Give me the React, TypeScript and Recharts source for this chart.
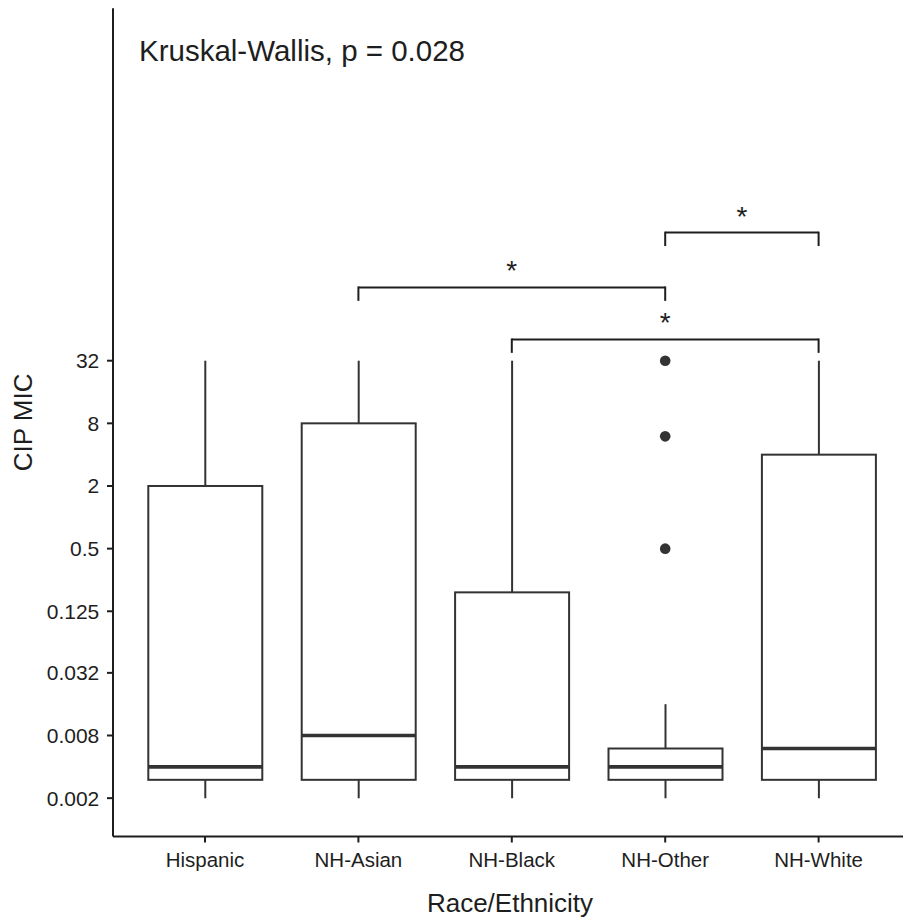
import React from 'react';
import { ComposedChart, Bar, Scatter, XAxis, YAxis, ReferenceLine } from 'recharts';

// MIC values (mg/L), one entry per group
const categories = ['Hispanic', 'NH-Asian', 'NH-Black', 'NH-Other', 'NH-White'];
const micMin = [0.002, 0.002, 0.002, 0.002, 0.002];
const micQ1 = [0.003, 0.003, 0.003, 0.003, 0.003];
const micMedian = [0.004, 0.008, 0.004, 0.004, 0.006];
const micQ3 = [2, 8, 0.19, 0.006, 4];
const micMax = [32, 32, 32, 0.016, 32];

const outlierGroups = ['NH-Other', 'NH-Other', 'NH-Other'];
const outlierValues = [32, 6, 0.5];

const yTickLabels = [0.002, 0.008, 0.032, 0.125, 0.5, 2, 8, 32];

// pairwise comparisons (bracket heights on the log2 scale)
const compareFrom = ['NH-Asian', 'NH-Black', 'NH-Other'];
const compareTo = ['NH-Other', 'NH-White', 'NH-White'];
const compareLevel = [7.34, 5.68, 9.09];
const compareSig = ['*', '*', '*'];
const tipLength = 0.43;

const kwText = 'Kruskal-Wallis, p = 0.028';

const lg = (v: number) => Math.log2(v);

const boxData = categories.map((name, i) => ({
  name,
  lMin: lg(micMin[i]),
  lQ1: lg(micQ1[i]),
  lMed: lg(micMedian[i]),
  lQ3: lg(micQ3[i]),
  lMax: lg(micMax[i]),
  range: [lg(micMin[i]), lg(micMax[i])],
}));

const outlierData = outlierGroups.map((name, i) => ({ name, value: lg(outlierValues[i]) }));

const FONT = '"Liberation Sans", Arial, Helvetica, sans-serif';
const LINE = '#333333';
const TEXT = '#1e1e1e';

// whole box drawn from the bar spanning min..max; inner positions follow the same linear scale
const BoxShape = (props: any) => {
  const { x, y, width, height, payload } = props;
  const hi = payload.lMax;
  const lo = payload.lMin;
  const k = height / (hi - lo);
  const py = (v: number) => y + (hi - v) * k;
  const cx = x + width / 2;
  return (
    <g>
      <line x1={cx} x2={cx} y1={py(hi)} y2={py(payload.lQ3)} stroke={LINE} strokeWidth={2} />
      <line x1={cx} x2={cx} y1={py(payload.lQ1)} y2={py(lo)} stroke={LINE} strokeWidth={2} />
      <rect
        x={x}
        y={py(payload.lQ3)}
        width={width}
        height={py(payload.lQ1) - py(payload.lQ3)}
        fill="#fff"
        stroke={LINE}
        strokeWidth={2}
      />
      <line x1={x} x2={x + width} y1={py(payload.lMed)} y2={py(payload.lMed)} stroke={LINE} strokeWidth={3.6} />
    </g>
  );
};

const Dot = (props: any) => <circle cx={props.cx} cy={props.cy} r={5.3} fill={LINE} />;

const tickFmt = (v: number) => {
  const t = yTickLabels.find((l) => Math.abs(lg(l) - v) < 1e-6);
  return t === undefined ? '' : String(t);
};

export default function App() {
  return (
    <div style={{ position: 'absolute', left: 0, top: 0, width: 903, height: 921, overflow: 'hidden', background: '#fff' }}>
      <ComposedChart
        width={911}
        height={921}
        data={boxData}
        margin={{ top: 8.3, right: 0, bottom: 0, left: 0 }}
        style={{ fontFamily: FONT }}
      >
        <XAxis
          dataKey="name"
          type="category"
          allowDuplicatedCategory={false}
          interval={0}
          height={84.5}
          padding={{ left: 15.3, right: 15.7 }}
          axisLine={{ stroke: TEXT, strokeWidth: 2 }}
          tickLine={{ stroke: TEXT, strokeWidth: 2 }}
          tickSize={6}
          tickMargin={10}
          tick={{ fill: TEXT, fontSize: 20.5, fontFamily: FONT }}
          label={{ value: 'Race/Ethnicity', position: 'insideBottom', offset: 9.3, dx: -2, fill: TEXT, fontSize: 26, fontFamily: FONT }}
        />
        <YAxis
          type="number"
          domain={[-10.19, 16.25]}
          allowDataOverflow
          ticks={yTickLabels.map(lg)}
          interval={0}
          tickFormatter={tickFmt}
          width={113}
          axisLine={{ stroke: TEXT, strokeWidth: 2 }}
          tickLine={{ stroke: TEXT, strokeWidth: 2 }}
          tickSize={6}
          tickMargin={7.7}
          tick={{ fill: TEXT, fontSize: 21, fontFamily: FONT }}
          label={{
            value: 'CIP MIC',
            angle: -90,
            position: 'insideLeft',
            offset: 22.5,
            fill: TEXT,
            fontSize: 26,
            fontFamily: FONT,
            style: { textAnchor: 'middle' },
          }}
        />
        <Bar dataKey="range" barSize={114} shape={<BoxShape />} isAnimationActive={false} />
        <Scatter data={outlierData} dataKey="value" shape={<Dot />} isAnimationActive={false} />
        {compareFrom.map((a, i) => (
          <ReferenceLine
            key={`h${i}`}
            segment={[
              { x: a, y: compareLevel[i] },
              { x: compareTo[i], y: compareLevel[i] },
            ]}
            stroke={TEXT}
            strokeWidth={2}
            ifOverflow="visible"
            label={{ value: compareSig[i], position: 'top', offset: 7, fill: TEXT, fontSize: 28, fontFamily: FONT }}
          />
        ))}
        {compareFrom.map((a, i) =>
          [a, compareTo[i]].map((c, j) => (
            <ReferenceLine
              key={`t${i}-${j}`}
              segment={[
                { x: c, y: compareLevel[i] + 0.03 },
                { x: c, y: compareLevel[i] - tipLength },
              ]}
              stroke={TEXT}
              strokeWidth={2}
              ifOverflow="visible"
            />
          ))
        )}
      </ComposedChart>
      <svg width={903} height={921} style={{ position: 'absolute', left: 0, top: 0, pointerEvents: 'none' }}>
        <text x={139} y={60.5} fontSize={29.5} fontFamily={FONT} fill={TEXT}>
          {kwText}
        </text>
      </svg>
    </div>
  );
}
